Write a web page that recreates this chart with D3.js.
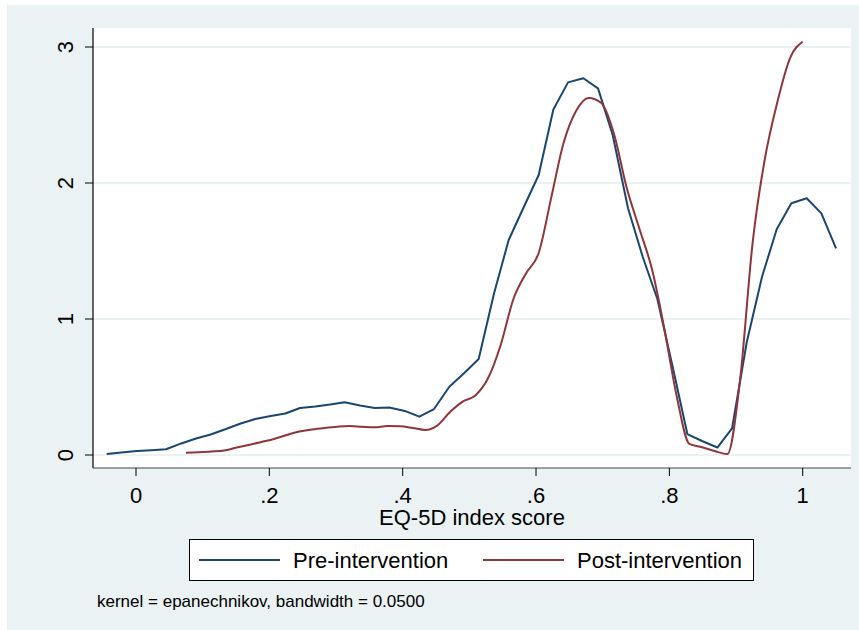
<!DOCTYPE html>
<html lang="en">
  <head>
    <meta charset="UTF-8" />
    <title>EQ-5D kernel density</title>
    <style>
      body { margin: 0; background: #fff; }
      svg text { font-family: "Liberation Sans", Arial, sans-serif; fill: #000; }
    </style>
  </head>
  <body>
    <div class="densityChart"></div>
    <script src="https://d3js.org/d3.v7.min.js"></script>
    <script>
      // density values
      const preX = [-0.044,-0.022,0.001,0.023,0.045,0.068,0.090,0.112,0.135,0.157,
        0.179,0.202,0.224,0.246,0.269,0.291,0.313,0.336,0.358,0.380,
        0.403,0.425,0.447,0.470,0.492,0.514,0.537,0.559,0.581,0.604,
        0.626,0.648,0.671,0.693,0.715,0.738,0.760,0.782,0.805,0.827,
        0.849,0.872,0.894,0.916,0.939,0.961,0.983,1.006,1.028,1.050];
      const preY = [0.007,0.018,0.029,0.035,0.042,0.085,0.121,0.151,0.191,0.232,
        0.265,0.287,0.305,0.346,0.357,0.371,0.388,0.364,0.346,0.349,
        0.324,0.282,0.338,0.502,0.601,0.706,1.188,1.581,1.816,2.059,
        2.540,2.740,2.770,2.696,2.353,1.814,1.458,1.147,0.647,0.154,
        0.103,0.055,0.195,0.827,1.311,1.660,1.851,1.888,1.777,1.520];
      const postX = [0.075,0.094,0.113,0.132,0.151,0.169,0.188,0.207,0.226,0.245,
        0.264,0.283,0.302,0.320,0.339,0.358,0.377,0.396,0.415,0.434,
        0.453,0.471,0.490,0.509,0.528,0.547,0.566,0.585,0.604,0.623,
        0.641,0.660,0.679,0.698,0.717,0.736,0.755,0.774,0.792,0.811,
        0.830,0.849,0.868,0.887,0.906,0.925,0.943,0.962,0.981,1.000];
      const postY = [0.017,0.021,0.026,0.033,0.055,0.074,0.096,0.118,0.147,0.173,
        0.188,0.199,0.208,0.213,0.208,0.204,0.213,0.211,0.199,0.184,
        0.221,0.316,0.393,0.438,0.564,0.809,1.145,1.335,1.485,1.896,
        2.288,2.529,2.625,2.588,2.360,1.965,1.665,1.365,0.941,0.434,
        0.081,0.057,0.029,0.007,0.550,1.566,2.171,2.596,2.919,3.039];

      const xTicks = [0, 0.2, 0.4, 0.6, 0.8, 1];
      const xTickLabels = ["0", ".2", ".4", ".6", ".8", "1"];
      const yTicks = [0, 1, 2, 3];
      const seriesNames = ["Pre-intervention", "Post-intervention"];
      const seriesColors = ["#1a476f", "#90353b"];

      const W = 859, H = 630;
      const plot = {left: 93, right: 851, top: 28, bottom: 468};

      const svg = d3.select(".densityChart")
        .append("svg")
          .attr("width", W)
          .attr("height", H);

      // outer graph region
      svg.append("rect")
        .attr("x", 7).attr("y", 5)
        .attr("width", W - 7).attr("height", H - 5)
        .attr("fill", "#eaf2f3");

      svg.append("rect")
        .attr("x", plot.left).attr("y", plot.top)
        .attr("width", plot.right - plot.left)
        .attr("height", plot.bottom - plot.top)
        .attr("fill", "#fff");

      const x = d3.scaleLinear().domain([0, 1]).range([136, 802.7]);
      const y = d3.scaleLinear().domain([0, 3]).range([455, 47]);

      // grid lines
      svg.append("g")
        .selectAll("line")
        .data(yTicks)
        .join("line")
          .attr("x1", plot.left).attr("x2", plot.right)
          .attr("y1", d => y(d)).attr("y2", d => y(d))
          .attr("stroke", "#eaf2f3")
          .attr("stroke-width", 2);

      // curves
      const preData = preX.map((v, i) => [v, preY[i]]);
      const postData = postX.map((v, i) => [v, postY[i]]);

      svg.append("path")
        .datum(preData)
        .attr("fill", "none")
        .attr("stroke", seriesColors[0])
        .attr("stroke-width", 2)
        .attr("stroke-linejoin", "round")
        .attr("d", d3.line().x(d => x(d[0])).y(d => y(d[1])));

      svg.append("path")
        .datum(postData)
        .attr("fill", "none")
        .attr("stroke", seriesColors[1])
        .attr("stroke-width", 2)
        .attr("d", d3.line().curve(d3.curveMonotoneX).x(d => x(d[0])).y(d => y(d[1])));

      // y axis
      svg.append("line")
        .attr("x1", plot.left).attr("x2", plot.left)
        .attr("y1", plot.top).attr("y2", plot.bottom)
        .attr("stroke", "#000").attr("stroke-width", 1.2);

      const yAx = svg.append("g");
      yAx.selectAll("line")
        .data(yTicks)
        .join("line")
          .attr("x1", plot.left - 8).attr("x2", plot.left)
          .attr("y1", d => y(d)).attr("y2", d => y(d))
          .attr("stroke", "#000").attr("stroke-width", 1);
      yAx.selectAll("text")
        .data(yTicks)
        .join("text")
          .attr("transform", d => `translate(73, ${y(d)}) rotate(-90)`)
          .attr("text-anchor", "middle")
          .style("font-size", "22px")
          .text(d => d);

      // x axis
      svg.append("line")
        .attr("x1", plot.left).attr("x2", plot.right)
        .attr("y1", plot.bottom).attr("y2", plot.bottom)
        .attr("stroke", "#444").attr("stroke-width", 1.2);

      const xAx = svg.append("g");
      xAx.selectAll("line")
        .data(xTicks)
        .join("line")
          .attr("x1", d => x(d)).attr("x2", d => x(d))
          .attr("y1", plot.bottom).attr("y2", plot.bottom + 8)
          .attr("stroke", "#000").attr("stroke-width", 1);
      xAx.selectAll("text")
        .data(xTicks)
        .join("text")
          .attr("x", d => x(d))
          .attr("y", 503)
          .attr("text-anchor", "middle")
          .style("font-size", "22px")
          .text((d, i) => xTickLabels[i]);

      svg.append("text")
        .attr("x", (plot.left + plot.right) / 2)
        .attr("y", 525)
        .attr("text-anchor", "middle")
        .style("font-size", "22px")
        .text("EQ-5D index score");

      // legend
      svg.append("rect")
        .attr("x", 189.5).attr("y", 539.5)
        .attr("width", 564).attr("height", 41)
        .attr("fill", "#fff")
        .attr("stroke", "#000").attr("stroke-width", 1);

      const legX = [[199, 280, 293], [483, 564, 577]];
      const leg = svg.append("g")
        .selectAll("g")
        .data(seriesNames)
        .join("g");
      leg.append("line")
        .attr("x1", (d, i) => legX[i][0]).attr("x2", (d, i) => legX[i][1])
        .attr("y1", 560).attr("y2", 560)
        .attr("stroke", (d, i) => seriesColors[i])
        .attr("stroke-width", 2);
      leg.append("text")
        .attr("x", (d, i) => legX[i][2])
        .attr("y", 568)
        .style("font-size", "22px")
        .text(d => d);

      svg.append("text")
        .attr("x", 97)
        .attr("y", 607)
        .style("font-size", "17px")
        .text("kernel = epanechnikov, bandwidth = 0.0500");
    </script>
  </body>
</html>
